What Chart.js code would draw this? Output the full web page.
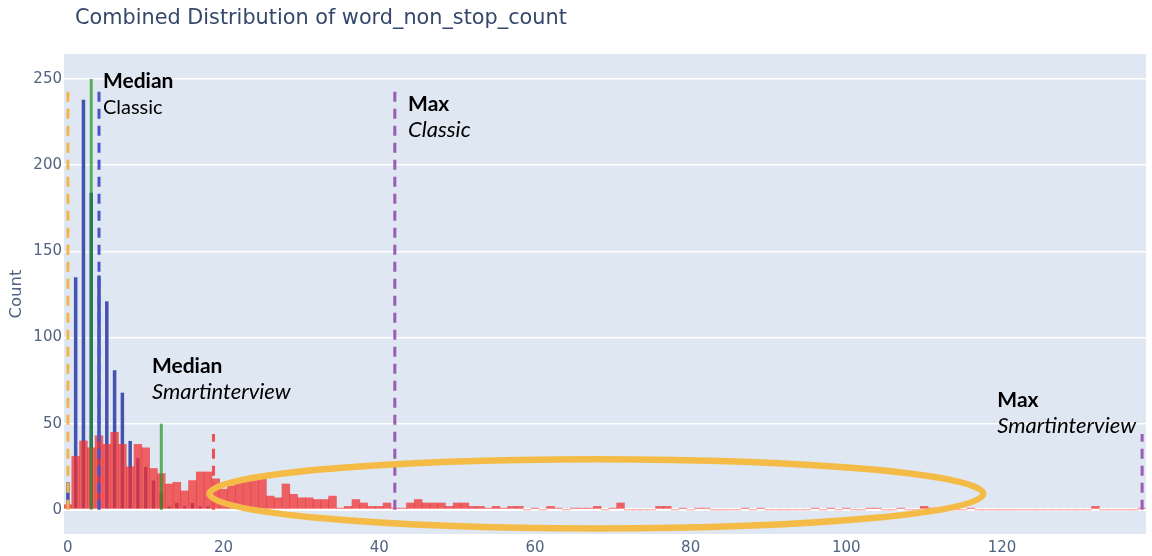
<!DOCTYPE html>
<html>
<head>
<meta charset="utf-8">
<script src="https://cdn.jsdelivr.net/npm/chart.js@4/dist/chart.umd.min.js"></script>
<style>
  html, body { margin: 0; padding: 0; background: #fff; }
</style>
</head>
<body>
<canvas id="distChart" width="1152" height="556"></canvas>
<script>
// counts per word_non_stop_count value (index = value)
const classicCounts = [
  16, 135, 238, 184, 136, 121, 81, 68, 40, 30,
  25, 17, 10, 2, 4, 2, 4, 2, 2, 0,
  0, 0, 0, 0, 0, 1, 0, 0, 1, 0,
  0, 0, 0, 0, 0, 0, 0, 0, 0, 0,
  0, 0, 1
];
const smartCounts = [
  3, 31, 40, 36, 43, 38, 45, 38, 25, 38,
  36, 24, 21, 15, 16, 11, 17, 22, 22, 18,
  12, 14, 18, 18, 18, 18, 8, 7, 15, 9,
  7, 7, 6, 6, 8, 1, 2, 6, 4, 2,
  2, 4, 1, 1, 4, 6, 4, 4, 4, 2,
  4, 4, 2, 2, 1, 2, 1, 2, 2, 0,
  1, 0, 2, 1, 0, 1, 1, 1, 2, 0,
  1, 4, 0, 0, 0, 0, 2, 2, 0, 1,
  0, 1, 1, 0, 0, 0, 0, 1, 0, 1,
  0, 0, 0, 0, 0, 0, 1, 0, 1, 0,
  1, 0, 0, 1, 1, 0, 0, 1, 0, 0,
  2, 1, 0, 0, 0, 0, 1, 0, 0, 0,
  0, 0, 0, 0, 0, 0, 0, 0, 0, 0,
  0, 0, 2, 0, 0, 0, 0, 0, 1
];
const xTicks = [0, 20, 40, 60, 80, 100, 120];
const yTicks = [0, 50, 100, 150, 200, 250];

// reference lines: position and height
const markerX   = [0, 3, 4, 12, 18.7, 42, 138];
const markerTop = [243, 250, 243, 50, 44, 243, 44];
const markerColor = ["#f2b54a", "rgba(30,150,30,0.7)", "#4a55c8", "rgba(30,150,30,0.7)", "#ef4f4f", "#9a5cb4", "#9a5cb4"];
const markerDash  = [[10, 7], [], [10, 7], [], [10, 7], [10, 7], [10, 7]];

const notes = [
  { x: 4.5, y: 244.8, head: "Median", sub: "Classic", italic: false },
  { x: 43.7, y: 231.4, head: "Max", sub: "Classic", italic: true },
  { x: 10.8, y: 79.5, head: "Median", sub: "Smartinterview", italic: true },
  { x: 119.4, y: 59.7, head: "Max", sub: "Smartinterview", italic: true },
];

const tickColor = "#506482";

const markerSets = markerX.map((x, i) => ({
  type: "line",
  data: [{ x: x, y: 0 }, { x: x, y: markerTop[i] }],
  borderColor: markerColor[i],
  borderDash: markerDash[i],
  borderWidth: 3,
  pointRadius: 0,
  order: 1,
}));

const decor = {
  id: "decor",
  beforeDraw(chart) {
    const { ctx, chartArea: a } = chart;
    ctx.save();
    ctx.fillStyle = "#dfe7f2";
    ctx.fillRect(a.left, a.top, a.right - a.left, a.bottom - a.top);
    ctx.restore();
  },
  afterDatasetsDraw(chart) {
    const { ctx, scales: { x, y } } = chart;
    // highlight ellipse round the long tail
    const cx = x.getPixelForValue(67.9), cy = y.getPixelForValue(9.3);
    const rx = x.getPixelForValue(67.9 + 49.7) - cx;
    const ry = cy - y.getPixelForValue(9.3 + 20.1);
    ctx.save();
    ctx.strokeStyle = "#f5bb47";
    ctx.lineWidth = 6.5;
    ctx.beginPath();
    ctx.ellipse(cx, cy, rx, ry, 0, 0, Math.PI * 2);
    ctx.stroke();
    ctx.restore();
  },
  afterDraw(chart) {
    const { ctx, scales: { x, y } } = chart;
    ctx.save();
    ctx.fillStyle = "#000";
    ctx.textBaseline = "alphabetic";
    notes.forEach(n => {
      const px = x.getPixelForValue(n.x), py = y.getPixelForValue(n.y);
      ctx.font = "bold 21px Lato";
      ctx.fillText(n.head, px, py);
      ctx.font = n.italic ? "italic 22px Lato" : "20px Lato";
      ctx.fillText(n.sub, px, py + 26);
    });
    ctx.fillStyle = "#34486a";
    ctx.font = "20.8px 'DejaVu Sans'";
    ctx.fillText("Combined Distribution of word_non_stop_count", 75, 24);
    ctx.restore();
  },
};

new Chart(document.getElementById("distChart"), {
  type: "bar",
  data: {
    datasets: [
      {
        label: "Smartinterview",
        data: smartCounts.map((c, i) => ({ x: i, y: c })),
        backgroundColor: "rgba(240,50,50,0.75)",
        barPercentage: 1,
        categoryPercentage: 1,
        grouped: false,
        order: 2,
      },
      {
        label: "Classic",
        data: classicCounts.map((c, i) => ({ x: i, y: c })),
        backgroundColor: "#4453ad",
        barPercentage: 0.45,
        categoryPercentage: 1,
        grouped: false,
        order: 3,
      },
      ...markerSets,
    ],
  },
  options: {
    responsive: false,
    animation: false,
    layout: { padding: { top: 54, right: 6, left: 0, bottom: 0 } },
    plugins: { legend: { display: false }, tooltip: { enabled: false } },
    scales: {
      x: {
        type: "linear",
        min: -0.5,
        max: 138.5,
        offset: false,
        grid: { display: false, offset: false },
        border: { display: false },
        afterBuildTicks: s => { s.ticks = xTicks.map(v => ({ value: v })); },
        afterFit: s => { s.height = 22; },
        ticks: { color: tickColor, font: { family: "DejaVu Sans", size: 15 }, padding: -3, maxRotation: 0 },
      },
      y: {
        min: -14,
        max: 264.5,
        afterBuildTicks: s => { s.ticks = yTicks.map(v => ({ value: v })); },
        afterFit: s => { s.width = 64; },
        grid: {
          color: "#ffffff",
          lineWidth: ctx => (ctx.tick && ctx.tick.value === 0 ? 3 : 1.5),
          drawTicks: false,
        },
        border: { display: false },
        ticks: { color: tickColor, font: { family: "DejaVu Sans", size: 15 }, padding: 2 },
        title: {
          display: true,
          text: "Count",
          color: tickColor,
          font: { family: "DejaVu Sans", size: 16.5 },
          padding: { top: 7, bottom: 0 },
        },
      },
    },
  },
  plugins: [decor],
});
</script>
</body>
</html>
